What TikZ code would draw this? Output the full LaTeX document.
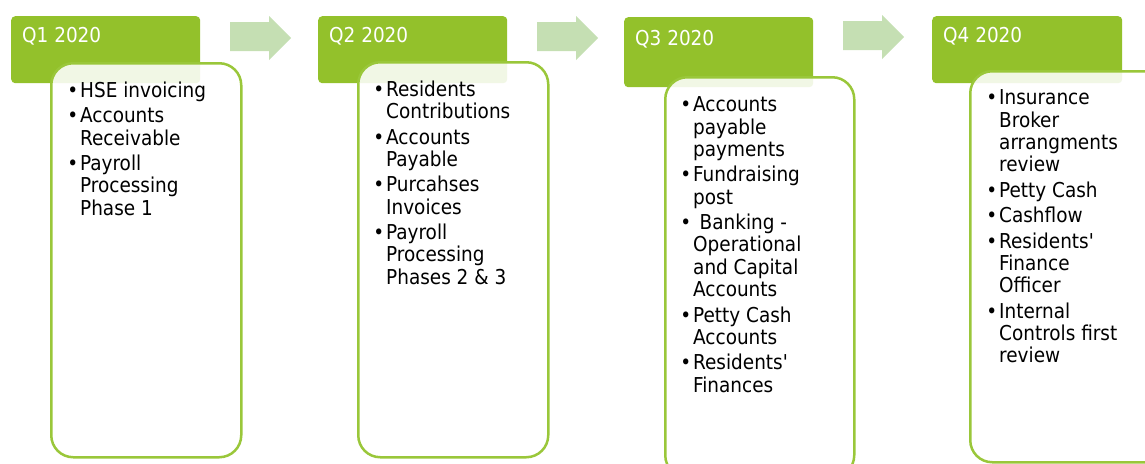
\documentclass[tikz,border=0pt]{standalone}
\usepackage{fontspec}
\setmainfont{DejaVu Sans Condensed}

\definecolor{hdrgreen}{HTML}{93C12B}
\definecolor{boxgreen}{HTML}{9AC73A}
\definecolor{arrowgreen}{HTML}{C5DFB3}

% one bulleted line: bullet hangs to the left, strut fixes the line top
\newcommand{\bitem}{\llap{•\hspace{2pt}}\rule{0pt}{17pt}}

\tikzset{
  quarterhead/.style={fill=hdrgreen, rounded corners=4pt, anchor=north west,
    inner sep=0pt, draw=none},
  quartertitle/.style={anchor=base west, inner sep=0pt, text=white,
    font=\fontsize{20.5}{24}\selectfont},
  taskpanel/.style={draw=boxgreen, line width=2.5pt, fill=white, fill opacity=0.88,
    rounded corners=22pt, anchor=north west, inner sep=0pt},
  tasklist/.style={anchor=north west, inner sep=0pt, align=left, text=black,
    font=\fontsize{20.5}{22.3}\selectfont},
  stagearrow/.pic={
    \fill[arrowgreen] (0,6) -- (39,6) -- (39,0) -- (61,22) -- (39,44) -- (39,35)
      -- (0,35) -- cycle;
  }
}

\begin{document}
\begin{tikzpicture}[x=1pt, y=-1pt]
  \useasboundingbox (0,0) rectangle (1145,463);

  % quarter headers
  \node[quarterhead, minimum width=189pt, minimum height=67pt] (h1) at (11,16) {};
  \node[quarterhead, minimum width=189pt, minimum height=67pt] (h2) at (318,16) {};
  \node[quarterhead, minimum width=189pt, minimum height=70pt] (h3) at (624,17) {};
  \node[quarterhead, minimum width=190pt, minimum height=67pt] (h4) at (932,16) {};

  \node[quartertitle] (t1) at (22,42) {Q1 2020};
  \node[quartertitle] (t2) at (329,42) {Q2 2020};
  \node[quartertitle] (t3) at (635,45) {Q3 2020};
  \node[quartertitle] (t4) at (943,42) {Q4 2020};

  % arrows between the quarters
  \pic at (230,16) {stagearrow};
  \pic at (537,16) {stagearrow};
  \pic at (843,15) {stagearrow};

  % task panels
  \node[taskpanel, minimum width=190pt, minimum height=394pt] (p1) at (50,62) {};
  \node[taskpanel, minimum width=190pt, minimum height=395pt] (p2) at (357,61) {};
  \node[taskpanel, minimum width=189pt, minimum height=400pt] (p3) at (664,76) {};
  \node[taskpanel, minimum width=281pt, minimum height=391pt] (p4) at (969,70) {};

  % task lists
  \node[tasklist] (l1) at (80,80) {%
    \bitem HSE invoicing\\[3.2pt]
    \bitem Accounts\\ Receivable\\[3.2pt]
    \bitem Payroll\\ Processing\\ Phase 1};

  \node[tasklist] (l2) at (386,79) {%
    \bitem Residents\\ Contributions\\[3.2pt]
    \bitem Accounts\\ Payable\\[3.2pt]
    \bitem Purcahses\\ Invoices\\[3.2pt]
    \bitem Payroll\\ Processing\\ Phases 2 \& 3};

  \node[tasklist] (l3) at (693,94.5) {%
    \bitem Accounts\\ payable\\ payments\\[3.2pt]
    \bitem Fundraising\\ post\\[3.2pt]
    \bitem\hspace*{6.5pt}Banking -\\ Operational\\ and Capital\\ Accounts\\[3.2pt]
    \bitem Petty Cash\\ Accounts\\[3.2pt]
    \bitem Residents\textquotesingle\\ Finances};

  \node[tasklist] (l4) at (999,87.5) {%
    \bitem Insurance\\ Broker\\ arrangments\\ review\\[3.2pt]
    \bitem Petty Cash\\[3.2pt]
    \bitem Cashflow\\[3.2pt]
    \bitem Residents\textquotesingle\\ Finance\\ Officer\\[3.2pt]
    \bitem Internal\\ Controls first\\ review};
\end{tikzpicture}
\end{document}
